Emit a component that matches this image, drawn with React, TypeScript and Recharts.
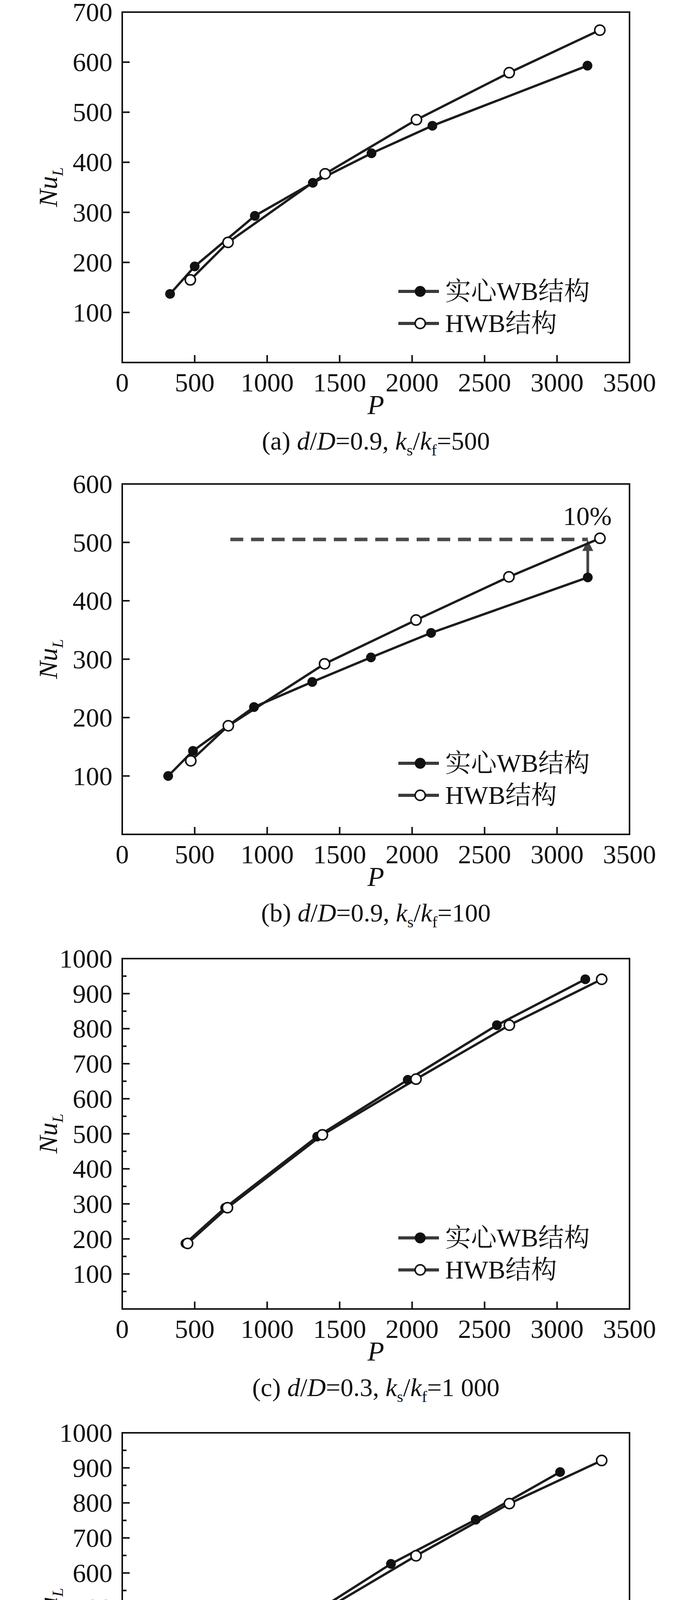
import React from "react";
import {
  LineChart,
  Line,
  XAxis,
  YAxis,
  Legend,
  ReferenceArea,
  ReferenceLine,
  ReferenceDot,
} from "recharts";

const FONT = "'Liberation Serif', 'Times New Roman', serif";
const CJK_FONT = "'Liberation Serif', 'Noto Serif CJK SC', 'Noto Sans CJK SC', serif";
const INK = "#111";

const pTicks = [0, 500, 1000, 1500, 2000, 2500, 3000, 3500];
const ticksA = [0, 100, 200, 300, 400, 500, 600, 700];
const ticksB = [0, 100, 200, 300, 400, 500, 600];
const ticksCD = [
  0, 50, 100, 150, 200, 250, 300, 350, 400, 450, 500, 550, 600, 650, 700, 750, 800, 850, 900, 950, 1000,
];

const legendLabels = ["实心WB结构", "HWB结构"];

// (a) d/D=0.9, ks/kf=500
const aSolidP = [330, 500, 915, 1315, 1720, 2140, 3210];
const aSolidNu = [137, 192, 293, 359, 418, 473, 593];
const aHollowP = [470, 730, 1400, 2030, 2670, 3295];
const aHollowNu = [165, 240, 377, 485, 579, 664];

// (b) d/D=0.9, ks/kf=100
const bSolidP = [317, 488, 909, 1311, 1716, 2131, 3212];
const bSolidNu = [100, 143, 218, 261, 303, 345, 440];
const bHollowP = [473, 732, 1396, 2027, 2668, 3296];
const bHollowNu = [126, 186, 292, 367, 441, 507];

// (c) d/D=0.3, ks/kf=1 000
const cSolidP = [436, 710, 1345, 1970, 2585, 3195];
const cSolidNu = [187, 289, 492, 654, 810, 941];
const cHollowP = [451, 726, 1381, 2027, 2671, 3308];
const cHollowNu = [187, 289, 497, 656, 810, 941];

// (d) d/D=0.5, ks/kf=1 000
const dSolidP = [430, 671, 1265, 1854, 2439, 3021];
const dSolidNu = [183, 280, 471, 626, 752, 888];
const dHollowP = [460, 726, 1390, 2027, 2671, 3308];
const dHollowNu = [189, 286, 493, 649, 798, 921];

const toPoints = (ps: number[], nus: number[]) => ps.map((p, i) => ({ p, nu: nus[i] }));

const PLOT_TOP = 31;
const PLOT_BOTTOM = 928;
const PLOT_LEFT = 313;
const PLOT_RIGHT = 1612;
const WIDTH = 1772;
const PAD = 40; // room above the plot so the top tick label is not clipped

const makeYTick = (yMax: number) => (props: any) => {
  const { x, y, payload } = props;
  const v = payload.value as number;
  const major = v % 100 === 0;
  return (
    <g>
      {v > 0 && v < yMax && (
        <line x1={x} x2={x + (major ? 19 : 11)} y1={y} y2={y} stroke={INK} strokeWidth={4} />
      )}
      {major && v > 0 && (
        <text
          x={x - 25}
          y={y}
          textAnchor="end"
          dominantBaseline="central"
          fontFamily={FONT}
          fontSize={68}
          fill={INK}
        >
          {v}
        </text>
      )}
    </g>
  );
};

const XTick = (props: any) => {
  const { x, y, payload } = props;
  const v = payload.value as number;
  return (
    <g>
      {v > 0 && v < 3500 && <line x1={x} x2={x} y1={y} y2={y - 19} stroke={INK} strokeWidth={4} />}
      <text
        x={x}
        y={y + 51}
        textAnchor="middle"
        dominantBaseline="central"
        fontFamily={FONT}
        fontSize={68}
        fill={INK}
      >
        {v}
      </text>
    </g>
  );
};

function LegendBox() {
  const row = (filled: boolean, label: string) => (
    <div style={{ display: "flex", alignItems: "center", height: 82 }}>
      <svg width={104} height={40}>
        <line x1={0} x2={104} y1={20} y2={20} stroke="#3a3a3a" strokeWidth={8} />
        <circle cx={56} cy={20} r={filled ? 12 : 13} fill={filled ? INK : "#fff"} stroke={INK} strokeWidth={4} />
      </svg>
      <span
        style={{
          marginLeft: 16,
          fontFamily: CJK_FONT,
          fontSize: 66,
          lineHeight: "82px",
          color: INK,
          whiteSpace: "nowrap",
        }}
      >
        {label}
      </span>
    </div>
  );
  return (
    <div>
      {row(true, legendLabels[0])}
      {row(false, legendLabels[1])}
    </div>
  );
}

const ArrowShape = (props: any) => {
  const { x1, y1, x2, y2 } = props;
  const top = Math.min(y1, y2);
  const bottom = Math.max(y1, y2);
  return (
    <g>
      <line x1={x1} x2={x2} y1={bottom} y2={top + 22} stroke="#444" strokeWidth={7} />
      <polygon points={`${x1 - 14},${top + 28} ${x1 + 14},${top + 28} ${x1},${top}`} fill="#444" />
    </g>
  );
};

interface PanelProps {
  height: number;
  yMax: number;
  yTicks: number[];
  solid: { p: number; nu: number }[];
  hollow: { p: number; nu: number }[];
  caption: React.ReactNode;
  annotate?: boolean;
}

function Panel({ height, yMax, yTicks, solid, hollow, caption, annotate }: PanelProps) {
  const centerX = (PLOT_LEFT + PLOT_RIGHT) / 2;
  return (
    <div style={{ position: "relative", width: WIDTH, height }}>
      <div style={{ position: "absolute", left: 0, top: -PAD }}>
        <LineChart
          width={WIDTH}
          height={height + PAD}
          margin={{
            top: PLOT_TOP + PAD,
            left: PLOT_LEFT - 1,
            right: WIDTH - PLOT_RIGHT,
            bottom: height - PLOT_BOTTOM - 1,
          }}
        >
          <XAxis
            type="number"
            dataKey="p"
            domain={[0, 3500]}
            ticks={pTicks}
            tick={XTick}
            tickSize={0}
            tickMargin={0}
            tickLine={false}
            axisLine={false}
            height={1}
            interval={0}
            allowDataOverflow
          />
          <YAxis
            type="number"
            dataKey="nu"
            domain={[0, yMax]}
            ticks={yTicks}
            tick={makeYTick(yMax)}
            tickSize={0}
            tickMargin={0}
            tickLine={false}
            axisLine={false}
            width={1}
            interval={0}
            allowDataOverflow
          />
          <ReferenceArea x1={0} x2={3500} y1={0} y2={yMax} fill="none" stroke={INK} strokeWidth={4} />
          {annotate && (
            <ReferenceLine
              segment={[
                { x: 746, y: 505 },
                { x: 3212, y: 505 },
              ]}
              stroke="#4a4a4a"
              strokeWidth={9}
              strokeDasharray="33 20"
            />
          )}
          {annotate && (
            <ReferenceLine
              segment={[
                { x: 3212, y: 440 },
                { x: 3212, y: 504 },
              ]}
              shape={ArrowShape}
            />
          )}
          {annotate && (
            <ReferenceDot
              x={3209}
              y={546}
              r={0}
              fill="none"
              stroke="none"
              label={{ value: "10%", position: "center", fontFamily: FONT, fontSize: 68, fill: INK }}
            />
          )}
          <Line
            data={solid}
            dataKey="nu"
            type="linear"
            stroke="#1c1c1c"
            strokeWidth={6}
            dot={{ r: 11, fill: INK, stroke: INK, strokeWidth: 3 }}
            isAnimationActive={false}
          />
          <Line
            data={hollow}
            dataKey="nu"
            type="linear"
            stroke="#1c1c1c"
            strokeWidth={6}
            dot={{ r: 13, fill: "#fff", stroke: INK, strokeWidth: 4 }}
            isAnimationActive={false}
          />
          <Legend
            layout="horizontal"
            verticalAlign="middle"
            align="center"
            wrapperStyle={{ left: 1020, top: 705 + PAD, width: 560, height: 170 }}
            content={() => <LegendBox />}
          />
        </LineChart>
      </div>
      <div
        style={{
          position: "absolute",
          left: 129,
          top: 479,
          transform: "translate(-50%, -50%) rotate(-90deg)",
          fontFamily: FONT,
          fontSize: 68,
          fontStyle: "italic",
          color: INK,
          whiteSpace: "nowrap",
          lineHeight: 1,
        }}
      >
        Nu<sub style={{ fontSize: "0.6em" }}>L</sub>
      </div>
      <div
        style={{
          position: "absolute",
          left: centerX,
          top: 1037,
          transform: "translate(-50%, -50%)",
          fontFamily: FONT,
          fontSize: 70,
          fontStyle: "italic",
          color: INK,
          lineHeight: 1,
        }}
      >
        P
      </div>
      <div
        style={{
          position: "absolute",
          left: centerX,
          top: 1135,
          transform: "translate(-50%, -50%)",
          fontFamily: FONT,
          fontSize: 66,
          color: INK,
          whiteSpace: "nowrap",
          lineHeight: 1,
        }}
      >
        {caption}
      </div>
    </div>
  );
}

const sub = { fontSize: "0.62em" };

export default function App() {
  return (
    <div style={{ margin: -8, width: WIDTH, height: 4820, background: "#fff", overflow: "hidden" }}>
      <Panel
        height={1208}
        yMax={700}
        yTicks={ticksA}
        solid={toPoints(aSolidP, aSolidNu)}
        hollow={toPoints(aHollowP, aHollowNu)}
        caption={
          <>
            (a) <i>d</i>/<i>D</i>=0.9, <i>k</i>
            <sub style={sub}>s</sub>/<i>k</i>
            <sub style={sub}>f</sub>=500
          </>
        }
      />
      <Panel
        height={1215}
        yMax={600}
        yTicks={ticksB}
        solid={toPoints(bSolidP, bSolidNu)}
        hollow={toPoints(bHollowP, bHollowNu)}
        annotate
        caption={
          <>
            (b) <i>d</i>/<i>D</i>=0.9, <i>k</i>
            <sub style={sub}>s</sub>/<i>k</i>
            <sub style={sub}>f</sub>=100
          </>
        }
      />
      <Panel
        height={1214}
        yMax={1000}
        yTicks={ticksCD}
        solid={toPoints(cSolidP, cSolidNu)}
        hollow={toPoints(cHollowP, cHollowNu)}
        caption={
          <>
            (c) <i>d</i>/<i>D</i>=0.3, <i>k</i>
            <sub style={sub}>s</sub>/<i>k</i>
            <sub style={sub}>f</sub>=1 000
          </>
        }
      />
      <Panel
        height={1183}
        yMax={1000}
        yTicks={ticksCD}
        solid={toPoints(dSolidP, dSolidNu)}
        hollow={toPoints(dHollowP, dHollowNu)}
        caption={
          <>
            (d) <i>d</i>/<i>D</i>=0.5, <i>k</i>
            <sub style={sub}>s</sub>/<i>k</i>
            <sub style={sub}>f</sub>=1 000
          </>
        }
      />
    </div>
  );
}
